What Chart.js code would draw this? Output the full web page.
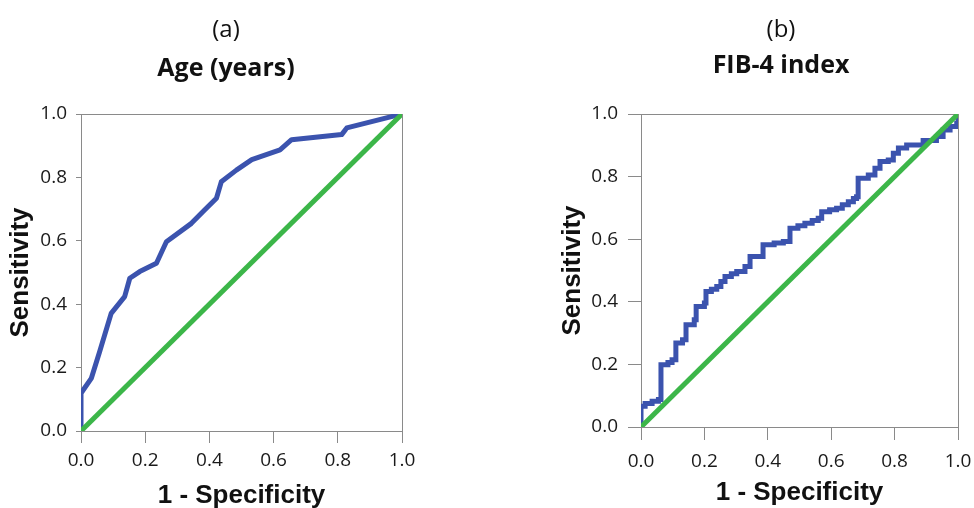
<!DOCTYPE html>
<html><head><meta charset="utf-8">
<script src="https://cdn.jsdelivr.net/npm/chart.js@4.4.0/dist/chart.umd.min.js"></script>
<style>
html,body{margin:0;padding:0;background:#fff;}
#wrap{position:relative;width:974px;height:508px;overflow:hidden;background:#fff;}
canvas{position:absolute;top:0;}
</style></head><body>
<div id="wrap">
<canvas id="ca" width="487" height="508" style="left:0"></canvas>
<canvas id="cb" width="487" height="508" style="left:487px"></canvas>
</div>
<script>
const tickValues = [0, 0.2, 0.4, 0.6, 0.8, 1.0];
const tickLabels = ['0.0', '0.2', '0.4', '0.6', '0.8', '1.0'];
const panelLabels = ['(a)', '(b)'];
const panelTitles = ['Age (years)', 'FIB-4 index'];
const xTitle = '1 - Specificity';
const yTitle = 'Sensitivity';

const refFpr = [0, 1];
const refTpr = [0, 1];

const ageFpr = [0, 0, 0.032, 0.058, 0.094, 0.136, 0.152, 0.183, 0.235, 0.266, 0.344, 0.385, 0.422, 0.437, 0.484, 0.532, 0.620, 0.656, 0.812, 0.828, 1.0];
const ageTpr = [0, 0.119, 0.166, 0.250, 0.371, 0.424, 0.482, 0.503, 0.529, 0.597, 0.655, 0.697, 0.734, 0.786, 0.823, 0.856, 0.887, 0.919, 0.935, 0.956, 1.0];

const fibFpr = [0, 0, 0.013, 0.035, 0.055, 0.063, 0.085, 0.098, 0.110, 0.131, 0.142, 0.168, 0.174, 0.200, 0.205, 0.222, 0.239, 0.252, 0.265, 0.285, 0.302, 0.328, 0.344, 0.385, 0.420, 0.449, 0.470, 0.495, 0.517, 0.540, 0.559, 0.570, 0.595, 0.617, 0.635, 0.654, 0.670, 0.680, 0.685, 0.717, 0.738, 0.754, 0.780, 0.796, 0.812, 0.838, 0.890, 0.932, 0.953, 0.975, 0.996, 1.0];
const fibTpr = [0, 0.066, 0.075, 0.082, 0.088, 0.199, 0.206, 0.215, 0.268, 0.279, 0.327, 0.343, 0.385, 0.396, 0.433, 0.440, 0.449, 0.465, 0.481, 0.490, 0.497, 0.513, 0.545, 0.582, 0.588, 0.593, 0.635, 0.643, 0.651, 0.660, 0.667, 0.688, 0.694, 0.699, 0.710, 0.720, 0.730, 0.736, 0.795, 0.805, 0.827, 0.848, 0.853, 0.875, 0.891, 0.901, 0.915, 0.928, 0.949, 0.960, 0.970, 1.0];

const BLUE = '#3B53AE';
const GREEN = '#3CB649';
const AXIS = '#8a8a8a';

function pts(xs, ys) { return xs.map((x, i) => ({x: x, y: ys[i]})); }

const panelTitlePlugin = {
  id: 'panelTitle',
  afterDraw(chart, args, o) {
    const ctx = chart.ctx;
    ctx.save();
    ctx.fillStyle = '#111';
    ctx.textAlign = 'center';
    ctx.textBaseline = 'alphabetic';
    ctx.font = '24px "Open Sans"';
    ctx.fillText(o.label, o.x, o.y1);
    ctx.font = 'bold 25px "Open Sans"';
    ctx.fillText(o.title, o.x, o.y2);
    ctx.restore();
  }
};
const framePlugin = {
  id: 'frame',
  beforeDatasetsDraw(chart) {
    const a = chart.chartArea, ctx = chart.ctx;
    ctx.save();
    ctx.strokeStyle = AXIS;
    ctx.lineWidth = 1;
    ctx.strokeRect(a.left + 0.5, a.top + 0.5, a.right - a.left, a.bottom - a.top);
    ctx.restore();
  }
};

function makeChart(id, g) {
  const setTicks = (s) => { s.ticks = tickValues.map(v => ({value: v})); };
  return new Chart(document.getElementById(id), {
    type: 'line',
    data: {
      datasets: [
        {data: pts(refFpr, refTpr), borderColor: GREEN, borderWidth: 5, pointRadius: 0, tension: 0},
        {data: pts(g.fpr, g.tpr), borderColor: BLUE, borderWidth: 5, pointRadius: 0, tension: 0,
         stepped: g.stepped, borderJoinStyle: g.stepped ? 'miter' : 'round', borderCapStyle: 'butt'}
      ]
    },
    options: {
      responsive: false,
      animation: false,
      events: [],
      layout: {padding: {top: 114, left: 0, right: g.padRight, bottom: 0}},
      plugins: {
        legend: {display: false},
        tooltip: {enabled: false},
        title: {display: false},
        panelTitle: {label: g.label, title: g.title, x: g.tx, y1: g.ty1, y2: g.ty2}
      },
      scales: {
        x: {
          type: 'linear', min: 0, max: 1,
          afterBuildTicks: setTicks,
          afterFit: (s) => { s.height = g.xH; s.paddingLeft = 0; s.paddingRight = 0; },
          grid: {display: true, drawOnChartArea: false, drawTicks: true, tickLength: g.xTick, color: AXIS},
          border: {display: true, color: AXIS},
          ticks: {maxRotation: 0, autoSkip: false, padding: g.xPad, color: '#1a1a1a',
                  font: {family: '"Open Sans"', size: 19},
                  callback: (v, i) => tickLabels[i]},
          title: {display: true, text: xTitle, color: '#111',
                  font: {family: '"Liberation Sans", Arial', size: 26, weight: 'bold', lineHeight: 0.9},
                  padding: {top: 0, bottom: g.xTitlePad}}
        },
        y: {
          type: 'linear', min: 0, max: 1,
          afterBuildTicks: setTicks,
          afterFit: (s) => { s.width = g.yW; s.paddingTop = 0; s.paddingBottom = 0; },
          grid: {display: true, drawOnChartArea: false, drawTicks: true, tickLength: g.yTick, color: AXIS},
          border: {display: true, color: AXIS},
          ticks: {autoSkip: false, padding: g.yPad, color: '#1a1a1a',
                  font: {family: '"Open Sans"', size: 19},
                  callback: (v, i) => tickLabels[i]},
          title: {display: true, text: yTitle, color: '#111',
                  font: {family: '"Liberation Sans", Arial', size: 26, weight: 'bold', lineHeight: 0.9},
                  padding: {top: g.yTitlePad, bottom: 0}}
        }
      }
    },
    plugins: [framePlugin, panelTitlePlugin]
  });
}

makeChart('ca', {
  fpr: ageFpr, tpr: ageTpr, stepped: false,
  label: panelLabels[0], title: panelTitles[0], tx: 226, ty1: 37, ty2: 76,
  padRight: 85, xH: 77, yW: 81, xTick: 12, yTick: 5, xPad: 6, yPad: 9,
  xTitlePad: 0, yTitlePad: 9
});
makeChart('cb', {
  fpr: fibFpr, tpr: fibTpr, stepped: 'before',
  label: panelLabels[1], title: panelTitles[1], tx: 294, ty1: 37, ty2: 73,
  padRight: 16, xH: 81, yW: 154, xTick: 13, yTick: 13, xPad: 10, yPad: 10,
  xTitlePad: 3, yTitlePad: 74
});
</script>
</body></html>
